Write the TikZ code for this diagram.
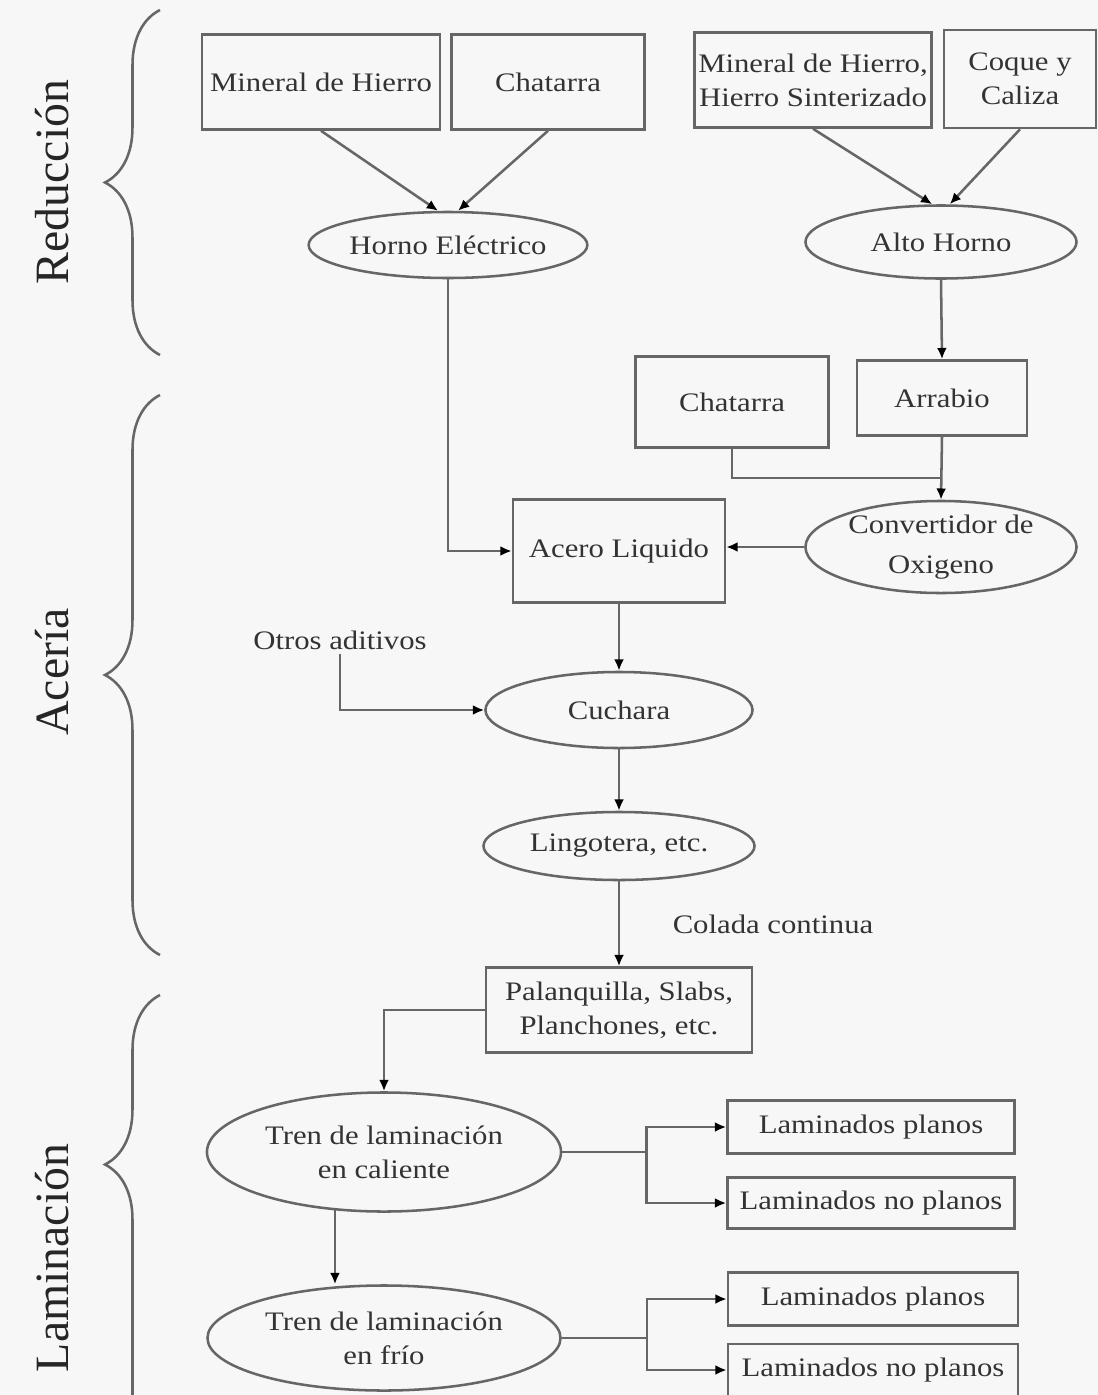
\documentclass[tikz,border=0pt]{standalone}
\usepackage{fontspec}
\setmainfont[FakeStretch=1.15]{Liberation Serif}
\newfontfamily\sidefont{Liberation Serif}
\usetikzlibrary{shapes.geometric,arrows.meta,decorations.pathreplacing}

\begin{document}
\begin{tikzpicture}[x=0.025cm, y=-0.025cm,
    box/.style   = {rectangle, draw=black!60, line width=1.8pt, align=center, inner sep=1pt, text=black!80, font=\fontsize{19}{24}\selectfont},
    oval/.style  = {ellipse, draw=black!60, line width=1.8pt, align=center, inner sep=0pt, text=black!80, font=\fontsize{19}{24}\selectfont},
    note/.style  = {text=black!80, font=\fontsize{19}{24}\selectfont},
    stage/.style = {rotate=90, text=black!85, font=\sidefont\fontsize{34}{40}\selectfont},
    flow/.style  = {draw=black!60, line width=1.8pt, -{Latex[length=8pt,width=7pt,color=black]}},
    link/.style  = {draw=black!60, line width=1.8pt},
    curly/.style = {draw=black!60, line width=1.8pt, decorate, decoration={brace, amplitude=1.375cm}}]

    \fill[black!3] (0,0) rectangle (1098,1395);
    \clip (0,0) rectangle (1098,1395);

    % stages
    \draw[curly] (160,355) -- (160,10);
    \draw[curly] (160,955) -- (160,395);
    \draw[curly, decoration={brace, amplitude=1.375cm, aspect=0.7}] (160,1560) -- (160,995);
    \node[stage] (red) at (52,182)  {Reducción};
    \node[stage] (ace) at (52,672)  {Acería};
    \node[stage] (lam) at (52,1258) {Laminación};

    % reduccion
    \node[box, minimum width=5.95cm, minimum height=2.375cm]  (mh1) at (321,82)  {Mineral de Hierro};
    \node[box, minimum width=4.825cm, minimum height=2.375cm] (ch1) at (548,82)  {Chatarra};
    \node[oval, minimum width=6.725cm, minimum height=1.65cm] (he)  at (448,245) {Horno Eléctrico};
    \node[box, minimum width=5.925cm, minimum height=2.375cm] (mh2) at (813,80)  {Mineral de Hierro,\\Hierro Sinterizado};
    \node[box, minimum width=3.8cm, minimum height=2.45cm]    (cc)  at (1020,79) {Coque y\\Caliza};
    \node[oval, minimum width=6.775cm, minimum height=1.825cm] (ah) at (941,242) {Alto Horno};

    % aceria
    \node[box, minimum width=4.825cm, minimum height=2.275cm] (ch2) at (732,402) {Chatarra};
    \node[box, minimum width=4.25cm, minimum height=1.875cm]  (ar)  at (942,398) {Arrabio};
    \node[oval, minimum width=6.775cm, minimum height=2.3cm]  (co)  at (941,547) {Convertidor de\\[4pt]Oxigeno};
    \node[box, minimum width=5.3cm, minimum height=2.575cm]   (al)  at (619,551) {Acero Liquido};
    \node[note] (ot) at (340,640) {Otros aditivos};
    \node[oval, minimum width=6.675cm, minimum height=1.9cm]  (cu)  at (619,710) {Cuchara};
    \node[oval, minimum width=6.775cm, minimum height=1.7cm]  (li)  at (619,846) {Lingotera, etc.};
    \node[note] (cl) at (773,924) {Colada continua};
    \node[box, minimum width=6.65cm, minimum height=2.125cm]  (pa)  at (619,1010) {Palanquilla, Slabs,\\Planchones, etc.};

    % laminacion
    \node[oval, minimum width=8.85cm, minimum height=2.975cm] (tc)  at (384,1152) {Tren de laminación\\en caliente};
    \node[box, minimum width=7.175cm, minimum height=1.325cm] (lp1) at (871,1127) {Laminados planos};
    \node[box, minimum width=7.175cm, minimum height=1.275cm] (ln1) at (871,1203) {Laminados no planos};
    \node[oval, minimum width=8.825cm, minimum height=2.625cm] (tf) at (384,1338) {Tren de laminación\\en frío};
    \node[box, minimum width=7.25cm, minimum height=1.325cm]  (lp2) at (873,1299) {Laminados planos};
    \node[box, minimum width=7.25cm, minimum height=1.3cm]    (ln2) at (873,1370) {Laminados no planos};

    \coordinate (j1) at (942,478);

    \draw[flow] (mh1.south) -- ([xshift=-0.25cm]he.north);
    \draw[flow] (ch1.south) -- ([xshift=0.25cm]he.north);
    \draw[flow] (mh2.south) -- ([xshift=-0.22cm]ah.north);
    \draw[flow] (cc.south)  -- ([xshift=0.22cm]ah.north);
    \draw[flow] (he.south) |- (al.west);
    \draw[flow] (ah.south) -- (ar.north);
    \draw[flow] (ar.south) -- (co.north);
    \draw[link] (ch2.south) |- (j1);
    \draw[flow] (co.west) -- (co.west -| al.east);
    \draw[flow] (al.south) -- (cu.north);
    \draw[flow] (ot.south) |- (cu.west);
    \draw[flow] (cu.south) -- (li.north);
    \draw[flow] (li.south) -- (pa.north);
    \draw[flow] (pa.west) -| (tc.north);
    \draw[flow] (tc.east) -- ++(84,0) |- (lp1.west);
    \draw[flow] (tc.east) -- ++(84,0) |- (ln1.west);
    \draw[flow] (tc.230) -- (tc.230 |- tf.north);
    \draw[flow] (tf.east) -- ++(85,0) |- (lp2.west);
    \draw[flow] (tf.east) -- ++(85,0) |- (ln2.west);
\end{tikzpicture}
\end{document}
